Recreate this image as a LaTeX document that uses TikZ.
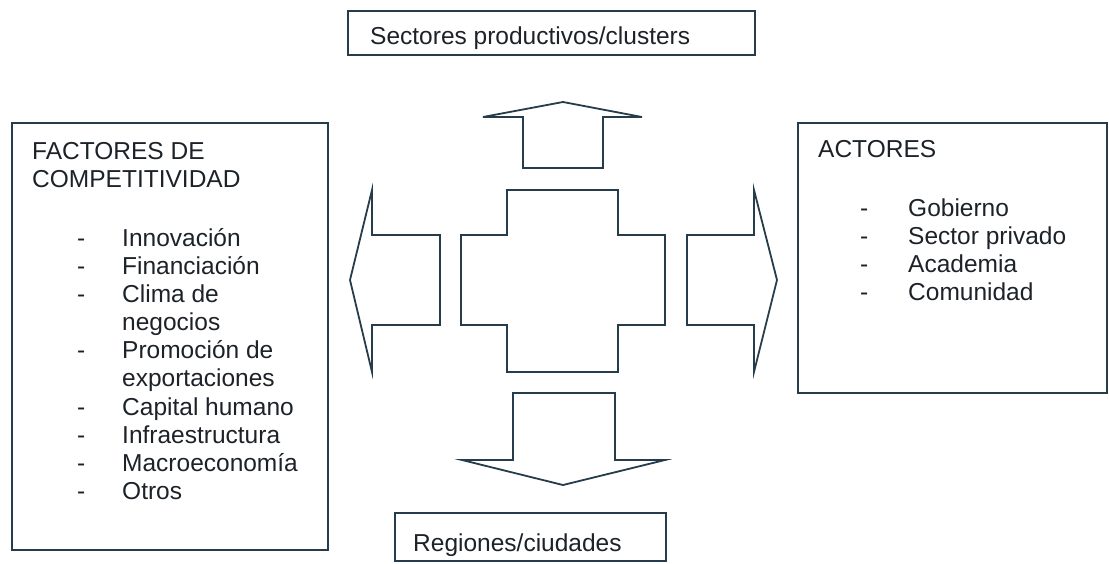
\documentclass[tikz,border=0pt]{standalone}
\usepackage{fontspec}
\setmainfont{Liberation Sans}
\definecolor{linecol}{RGB}{38,60,74}
\definecolor{txtcol}{RGB}{28,34,40}
\tikzset{
  box/.style={draw=linecol, line width=1.8pt, line join=miter},
  txt/.style={anchor=base west, inner sep=0pt, text=txtcol, font=\fontsize{24.5}{28}\selectfont},
}

\begin{document}
\begin{tikzpicture}[x=1pt,y=-1pt]
		%%%%% START %%%%%
		\useasboundingbox (0,0) rectangle (1109,563);
		
		\draw[box] (348,11) rectangle (755,55);
		\draw[box] (12,123) rectangle (328,550);
		\draw[box] (798,123) rectangle (1107,393);
		\draw[box] (395,513) rectangle (666,561);
		
		\draw[box] (461,235) -- (507,235) -- (507,190) -- (618,190) -- (618,235) -- (665,235) -- (665,325) -- (618,325) -- (618,372) -- (507,372) -- (507,325) -- (461,325) -- cycle;
		
		\draw[box] (523,168) -- (523,117) -- (483,117) -- (563,102) -- (642,117) -- (603,117) -- (603,168) -- cycle;
		\draw[box] (513,393) -- (513,460) -- (462,460) -- (563,485) -- (665,460) -- (615,460) -- (615,393) -- cycle;
		\draw[box] (440,235) -- (372,235) -- (372,190) -- (350,280) -- (372,372) -- (372,325) -- (440,325) -- cycle;
		\draw[box] (687,235) -- (754,235) -- (754,190) -- (777,280) -- (754,372) -- (754,325) -- (687,325) -- cycle;
		
		\node[txt] (sectores) at (370,44) {Sectores productivos/clusters};
		\node[txt] (regiones) at (413,551) {Regiones/ciudades};
		
		\node[txt] (factores) at (32,159) {FACTORES DE};
		\node[txt] (compet) at (32,187) {COMPETITIVIDAD};
		\node[txt] (f1) at (77,246) {-};  \node[txt] (innov) at (122,246) {Innovación};
		\node[txt] (f2) at (77,274) {-};  \node[txt] (financ) at (122,274) {Financiación};
		\node[txt] (f3) at (77,302) {-};  \node[txt] (clima) at (122,302) {Clima de};
		\node[txt] (negoc) at (122,330) {negocios};
		\node[txt] (f4) at (77,358) {-};  \node[txt] (promo) at (122,358) {Promoción de};
		\node[txt] (export) at (122,386) {exportaciones};
		\node[txt] (f5) at (77,415) {-};  \node[txt] (capital) at (122,415) {Capital humano};
		\node[txt] (f6) at (77,443) {-};  \node[txt] (infra) at (122,443) {Infraestructura};
		\node[txt] (f7) at (77,471) {-};  \node[txt] (macro) at (122,471) {Macroeconomía};
		\node[txt] (f8) at (77,499) {-};  \node[txt] (otros) at (122,499) {Otros};
		
		\node[txt] (actores) at (818,157) {ACTORES};
		\node[txt] (a1) at (860,216) {-};  \node[txt] (gob) at (908,216) {Gobierno};
		\node[txt] (a2) at (860,244) {-};  \node[txt] (privado) at (908,244) {Sector privado};
		\node[txt] (a3) at (860,272) {-};  \node[txt] (academia) at (908,272) {Academia};
		\node[txt] (a4) at (860,300) {-};  \node[txt] (comun) at (908,300) {Comunidad};
		
		%%%%% END %%%%%
	\end{tikzpicture}
\end{document}
